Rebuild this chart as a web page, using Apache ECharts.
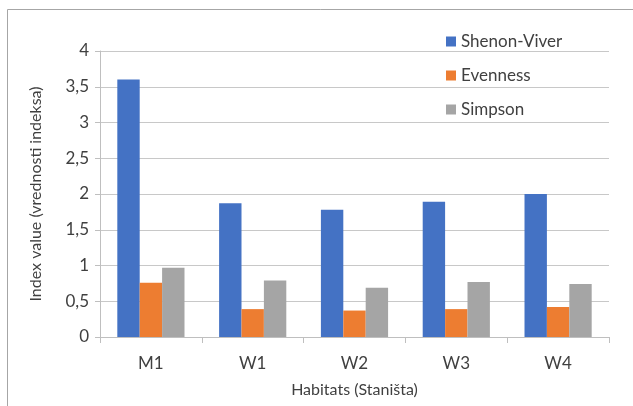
<!DOCTYPE html>
<html>
<head>
<meta charset="utf-8">
<script src="https://cdn.jsdelivr.net/npm/echarts@6/dist/echarts.min.js"></script>
<style>
  html, body { margin: 0; padding: 0; background: #fff; }
  #chart { width: 633px; height: 406px; }
</style>
</head>
<body>
<div id="chart"></div>
<script>
var habitats = ["M1", "W1", "W2", "W3", "W4"];
var shenonViver = [3.6, 1.87, 1.78, 1.89, 2.0];
var evenness = [0.76, 0.39, 0.37, 0.39, 0.42];
var simpson = [0.97, 0.79, 0.69, 0.77, 0.74];

var textColor = "#404040";
var font = "Lato, 'Open Sans', sans-serif";

var myChart = echarts.init(document.getElementById("chart"));
myChart.setOption({
  animation: false,
  textStyle: { fontFamily: font },
  graphic: [
    {
      type: "rect",
      shape: { x: 7.5, y: 9.5, width: 700, height: 500 },
      style: { fill: "none", stroke: "#a6a6a6", lineWidth: 1 },
      silent: true
    }
  ],
  grid: { left: 100, right: 24, top: 51, bottom: 69 },
  legend: {
    orient: "vertical",
    left: 441,
    top: 28,
    itemWidth: 10,
    itemHeight: 10,
    itemGap: 17,
    icon: "rect",
    textStyle: { color: textColor, fontSize: 17, fontFamily: font },
    data: ["Shenon-Viver", "Evenness", "Simpson"]
  },
  xAxis: {
    type: "category",
    data: habitats,
    name: "Habitats (Staništa)",
    nameLocation: "middle",
    nameGap: 45,
    nameTextStyle: { color: textColor, fontSize: 16 },
    axisLine: { lineStyle: { color: "#bfbfbf" } },
    axisTick: { show: true, length: 6, lineStyle: { color: "#bfbfbf" } },
    axisLabel: { color: textColor, fontSize: 17, margin: 18 }
  },
  yAxis: {
    type: "value",
    min: 0,
    max: 4,
    interval: 0.5,
    name: "Index value (vrednosti indeksa)",
    nameLocation: "middle",
    nameGap: 56,
    nameTextStyle: { color: textColor, fontSize: 16 },
    axisLine: { show: true, lineStyle: { color: "#bfbfbf" } },
    axisTick: { show: true, length: 5, lineStyle: { color: "#bfbfbf" } },
    axisLabel: {
      color: textColor,
      fontSize: 17,
      margin: 11,
      formatter: function (v) { return String(v).replace(".", ","); }
    },
    splitLine: { lineStyle: { color: "#c8c8c8" } }
  },
  series: [
    {
      name: "Shenon-Viver",
      type: "bar",
      data: shenonViver,
      barGap: "0%",
      barCategoryGap: "34%",
      itemStyle: { color: "#4472c4" }
    },
    {
      name: "Evenness",
      type: "bar",
      data: evenness,
      itemStyle: { color: "#ed7d31" }
    },
    {
      name: "Simpson",
      type: "bar",
      data: simpson,
      itemStyle: { color: "#a5a5a5" }
    }
  ]
});
</script>
</body>
</html>
